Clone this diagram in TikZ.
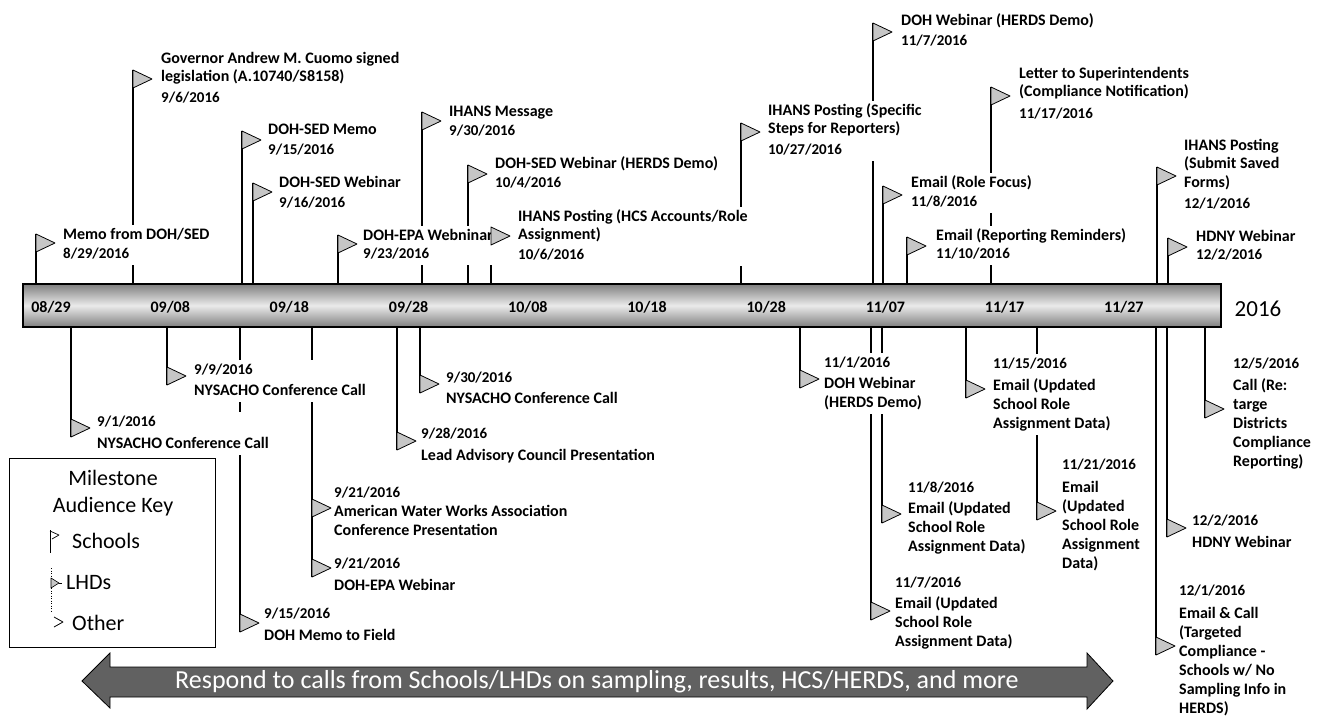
\documentclass[tikz,border=0pt]{standalone}
\usepackage{fontspec}
\setmainfont{Carlito}
\newcommand\lbltab[1]{\begin{tabular}[t]{@{}l@{}}#1\end{tabular}}
\newcommand\dte[1]{{\fontsize{15}{19}\selectfont #1}}
\tikzset{
 pole/.style={line width=1.1pt, black},
 flagshape/.style={fill=gray!45, draw=black, line width=0.8pt, line join=round},
 lbl/.style={anchor=base west, inner sep=1pt, fill=white, font=\fontsize{16}{18.5}\selectfont\bfseries},
 lbld/.style={lbl, font=\fontsize{16}{19}\selectfont\bfseries},
 tick/.style={anchor=base, font=\fontsize{16}{18}\selectfont\bfseries, inner sep=0pt},
 keytxt/.style={font=\fontsize{22}{26}\selectfont, inner sep=0pt},
}
\begin{document}
\begin{tikzpicture}[x=1pt,y=-1pt]
\fill[white] (0,0) rectangle (1317,718);
\useasboundingbox (0,0) rectangle (1317,718);

% timeline bar
\shade[top color=black!50, bottom color=black!50, middle color=black!8] (23,284) rectangle (1221,327);
\draw[line width=1.2pt] (23,284) rectangle (1221,327);
\foreach \k/\t in {0/08\slash 29,1/09\slash 08,2/09\slash 18,3/09\slash 28,4/10\slash 08,5/10\slash 18,6/10\slash 28,7/11\slash 07,8/11\slash 17,9/11\slash 27}
  \node[tick] (tick\k) at ({51+119.2*\k},312) {\t};
\node[anchor=base, font=\fontsize{23}{26}\selectfont, inner sep=0pt] (year) at (1258,316) {2016};

% poles above
\foreach \n/\x/\y in {A1/36/234, A2/133/70, A3/242/131, A4/253/183, A5/338/235, A6/422/112, A7/468/165, A8/491/227, A9/741/123, A10/873/23, A11/991/87, A12/883/186, A13/907/237, A14/1157/167, A15/1168/238}
{ \coordinate (\n b) at (\x,284); \coordinate (\n f) at (\x,\y); \draw[pole] (\n b) -- (\n f); }

% poles below
\foreach \n/\x/\y in {B1/71/437, B2/167/385, B3/240/632, B4/312/517, B5/312/577, B6/397/450, B7/420/393, B8/800/388, B9/871/620, B10/882/523, B11/966/398, B12/1037/520, B13/1156/655, B14/1167/537, B15/1205/418}
{ \coordinate (\n b) at (\x,327); \coordinate (\n e) at (\x,\y); \coordinate (\n f) at (\x,\y-18); \draw[pole] (\n b) -- (\n e); }

% labels above
\node[lbl] (A1t) at (62,239) {\lbltab{Memo from DOH/SED\\[1pt]\dte{8/29/2016}}};
\node[lbl] (A2t) at (160,63) {\lbltab{Governor Andrew M. Cuomo signed\\legislation (A.10740/S8158)\\[2.5pt]\dte{9/6/2016}}};
\node[lbl] (A3t) at (267,134) {\lbltab{DOH-SED Memo\\[2pt]\dte{9/15/2016}}};
\node[lbl] (A4t) at (278,187) {\lbltab{DOH-SED Webinar\\[2pt]\dte{9/16/2016}}};
\node[lbl] (A5t) at (362,240) {\lbltab{DOH-EPA Webninar\\[0pt]\dte{9/23/2016}}};
\node[lbl] (A6t) at (448,116) {\lbltab{IHANS Message\\[1pt]\dte{9/30/2016}}};
\node[lbl] (A7t) at (494,168) {\lbltab{DOH-SED Webinar (HERDS Demo)\\[1pt]\dte{10/4/2016}}};
\node[lbl] (A8t) at (517,221) {\lbltab{IHANS Posting (HCS Accounts/Role\\Assignment)\\[1pt]\dte{10/6/2016}}};
\node[lbl] (A9t) at (767,115) {\lbltab{IHANS Posting (Specific\\Steps for Reporters)\\[2pt]\dte{10/27/2016}}};
\node[lbl] (A10t) at (900,25) {\lbltab{DOH Webinar (HERDS Demo)\\[2pt]\dte{11/7/2016}}};
\node[lbl] (A11t) at (1018,78) {\lbltab{Letter to Superintendents\\(Compliance Notification)\\[3pt]\dte{11/17/2016}}};
\node[lbl] (A12t) at (910,187) {\lbltab{Email (Role Focus)\\[1pt]\dte{11/8/2016}}};
\node[lbl] (A13t) at (935,240) {\lbltab{Email (Reporting Reminders)\\[0pt]\dte{11/10/2016}}};
\node[lbl] (A14t) at (1183,150) {\lbltab{IHANS Posting\\(Submit Saved\\Forms)\\[2.5pt]\dte{12/1/2016}}};
\node[lbl] (A15t) at (1195,241) {\lbltab{HDNY Webinar\\[0pt]\dte{12/2/2016}}};

% labels below
\node[lbld] (B1t) at (96,426) {\lbltab{\dte{9/1/2016}\\[3pt]NYSACHO Conference Call}};
\node[lbld] (B2t) at (193,374) {\lbltab{\dte{9/9/2016}\\[2pt]NYSACHO Conference Call}};
\node[lbld] (B3t) at (263,618) {\lbltab{\dte{9/15/2016}\\[3pt]DOH Memo to Field}};
\node[lbld] (B4t) at (333,497) {\lbltab{\dte{9/21/2016}\\American Water Works Association\\Conference Presentation}};
\node[lbld] (B5t) at (333,568) {\lbltab{\dte{9/21/2016}\\[3pt]DOH-EPA Webinar}};
\node[lbld] (B6t) at (420,438) {\lbltab{\dte{9/28/2016}\\[3pt]Lead Advisory Council Presentation}};
\node[lbld] (B7t) at (445,382) {\lbltab{\dte{9/30/2016}\\[2pt]NYSACHO Conference Call}};
\node[lbld] (B8t) at (823,367) {\lbltab{\dte{11/1/2016}\\[2pt]DOH Webinar\\(HERDS Demo)}};
\node[lbld] (B9t) at (894,587) {\lbltab{\dte{11/7/2016}\\[2pt]Email (Updated\\School Role\\Assignment Data)}};
\node[lbld] (B10t) at (907,492) {\lbltab{\dte{11/8/2016}\\[2pt]Email (Updated\\School Role\\Assignment Data)}};
\node[lbld] (B11t) at (992,368) {\lbltab{\dte{11/15/2016}\\[3pt]Email (Updated\\School Role\\Assignment Data)}};
\node[lbld] (B12t) at (1061,469) {\lbltab{\dte{11/21/2016}\\[4pt]Email\\(Updated\\School Role\\Assignment\\Data)}};
\node[lbld] (B13t) at (1178,595) {\lbltab{\dte{12/1/2016}\\[4pt]Email \& Call\\(Targeted\\Compliance -\\Schools w/ No\\Sampling Info in\\HERDS)}};
\node[lbld] (B14t) at (1191,525) {\lbltab{\dte{12/2/2016}\\[3pt]HDNY Webinar}};
\node[lbld] (B15t) at (1232,368) {\lbltab{\dte{12/5/2016}\\[3pt]Call (Re:\\targe\\Districts\\Compliance\\Reporting)}};

% flags
\foreach \n in {A1,A2,A3,A4,A5,A6,A7,A8,A9,A10,A11,A12,A13,A14,A15,B1,B2,B3,B4,B5,B6,B7,B8,B9,B10,B11,B12,B13,B14,B15}
  \draw[flagshape] (\n f) -- ++(19,9) -- ++(-19,9) -- cycle;

% legend
\draw[line width=0.9pt] (9,458) rectangle (215,647);
\node[keytxt] (k1) at (113,478) {Milestone};
\node[keytxt] (k2) at (113,507) {Audience Key};
\node[keytxt, anchor=west] (k3) at (72,541) {Schools};
\node[keytxt, anchor=west] (k4) at (66,583) {LHDs};
\node[keytxt, anchor=west] (k5) at (72,623) {Other};
\draw[line width=0.7pt] (50,530) -- (50,553);
\draw[line width=0.7pt, line join=round] (50,531) -- (59,535) -- (52,539);
\draw[line width=0.5pt, dotted] (51,568) -- (51,612);
\draw[flagshape, line width=0.6pt] (51,578) -- (59,583) -- (51,588) -- cycle;
\draw[line width=0.7pt] (59,583) -- (62,583);
\draw[line width=0.8pt, line join=round] (54,617) -- (63,622) -- (54,627);

% bottom double arrow
\draw[fill=black!62, line width=0.8pt, line join=miter] (82,681) -- (110,653) -- (110,667) -- (1087,667) -- (1087,653) -- (1113,681) -- (1087,709) -- (1087,697) -- (110,697) -- (110,708) -- cycle;
\node[text=white, font=\fontsize{26}{30}\selectfont, inner sep=0pt] (resp) at (597,682) {Respond to calls from Schools/LHDs on sampling, results, HCS/HERDS, and more};
\end{tikzpicture}
\end{document}
